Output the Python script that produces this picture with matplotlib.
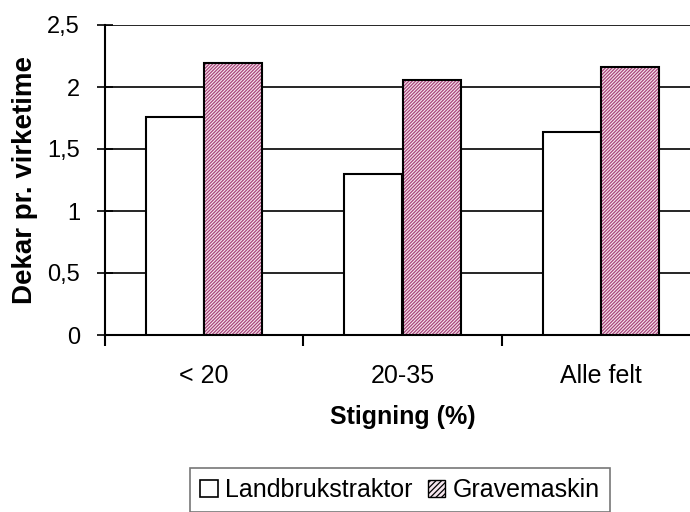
import matplotlib
matplotlib.use("Agg")
import matplotlib.pyplot as plt
from matplotlib.patches import Patch
import numpy as np

categories = ["< 20", "20-35", "Alle felt"]
landbruk = [1.76, 1.30, 1.64]
gravemaskin = [2.19, 2.06, 2.16]
series_names = ["Landbrukstraktor", "Gravemaskin"]
y_ticks = [0, 0.5, 1, 1.5, 2, 2.5]
y_ticklabels = ["0", "0,5", "1", "1,5", "2", "2,5"]

plt.rcParams['font.family'] = ['Liberation Sans', 'DejaVu Sans']
plt.rcParams['hatch.linewidth'] = 0.9

W, H = 690, 512
fig = plt.figure(figsize=(W / 100, H / 100), dpi=100)
ax_w = 700 - 105
ax = fig.add_axes([105 / W, 1 - 335 / H, ax_w / W, (335 - 25) / H])

x = np.arange(len(categories))
bw = 0.293
pink = "#a8457a"
pink_bg = "#f6e6ee"

ax.bar(x - bw / 2, landbruk, bw, color="white", edgecolor="black", linewidth=1.5, zorder=3)
ax.bar(x + bw / 2, gravemaskin, bw, color=pink_bg, edgecolor=pink, hatch="//////////",
       linewidth=0, zorder=3)
ax.bar(x + bw / 2, gravemaskin, bw, color="none", edgecolor="black", linewidth=1.5, zorder=4)

ax.set_xlim(-0.5, len(categories) - 0.5)
ax.set_ylim(0, 2.5)
ax.set_yticks(y_ticks)
ax.set_yticklabels(y_ticklabels, fontsize=17)
ax.yaxis.grid(True, color="black", linewidth=1.2)
ax.set_axisbelow(True)

ax.set_xticks(x)
ax.set_xticklabels(categories, fontsize=18)
ax.tick_params(axis="x", length=0, pad=21)
ax.set_xticks(np.arange(-0.5, len(categories), 1), minor=True)
ax.tick_params(axis="x", which="minor", length=8, width=1.5, direction="out", color="black")
ax.tick_params(axis="y", length=12, width=1.2, direction="inout", pad=12)

for s in ["top", "right"]:
    ax.spines[s].set_visible(False)
ax.spines["left"].set_linewidth(1.5)
ax.spines["bottom"].set_linewidth(1.5)

ax.set_ylabel("Dekar pr. virketime", fontsize=20, fontweight="bold")
ax.yaxis.set_label_coords((38 - 105) / ax_w, 0.5)
ax.set_xlabel("Stigning (%)", fontsize=18, fontweight="bold", labelpad=12)

handles = [
    Patch(facecolor="white", edgecolor="black", linewidth=1.2),
    Patch(facecolor=pink_bg, edgecolor=pink, hatch="//////"),
]
leg = fig.legend(handles, series_names, loc="upper left",
                 bbox_to_anchor=(190 / W, 1 - 468 / H), fontsize=18, frameon=True,
                 fancybox=False, edgecolor="#555555", handlelength=0.7, handleheight=0.7,
                 handletextpad=0.3, columnspacing=0.6, ncol=2, borderpad=0.4,
                 borderaxespad=0)
leg.get_frame().set_linewidth(1.2)
for h in leg.legend_handles:
    h.set_edgecolor("black")
leg.legend_handles[1].set_hatch("//////")

fig.savefig("out.png", dpi=100)
